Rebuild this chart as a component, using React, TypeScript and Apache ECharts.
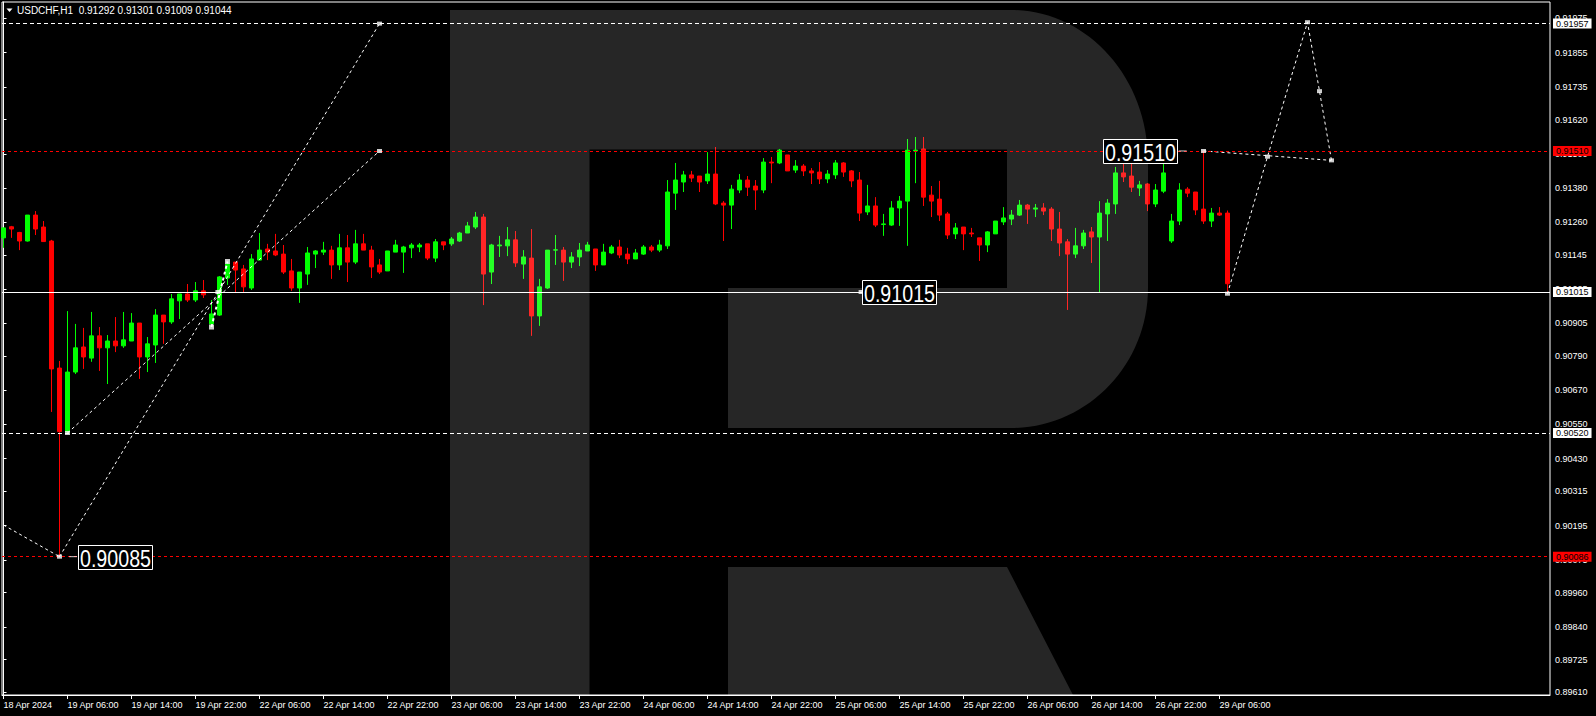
import React, { useEffect, useRef } from 'react';
import * as echarts from 'echarts';

// ---------- data ----------
const symbolName = 'USDCHF,H1';

// hourly candles, [open, high, low, close], first bar = 18 Apr 2024 22:00
const candles: [number, number, number, number][] = [
  [0.91205, 0.91241, 0.91170, 0.91240], [0.91244, 0.91247, 0.91205, 0.91236], [0.91224, 0.91226, 0.91162, 0.91194],
  [0.91194, 0.91285, 0.91192, 0.91285], [0.91285, 0.91299, 0.91215, 0.91236], [0.91243, 0.91264, 0.91192, 0.91192],
  [0.91194, 0.91198, 0.90594, 0.90745], [0.90748, 0.90773, 0.90085, 0.90525], [0.90525, 0.90948, 0.90520, 0.90734],
  [0.90734, 0.90903, 0.90727, 0.90819], [0.90822, 0.90889, 0.90745, 0.90787], [0.90783, 0.90945, 0.90770, 0.90861],
  [0.90861, 0.90892, 0.90738, 0.90819], [0.90819, 0.90864, 0.90692, 0.90843], [0.90843, 0.90927, 0.90804, 0.90826],
  [0.90826, 0.90945, 0.90819, 0.90847], [0.90843, 0.90941, 0.90843, 0.90906], [0.90906, 0.90906, 0.90710, 0.90787],
  [0.90787, 0.90857, 0.90734, 0.90833], [0.90829, 0.90955, 0.90766, 0.90934], [0.90934, 0.90934, 0.90833, 0.90910],
  [0.90910, 0.91008, 0.90903, 0.90991], [0.90984, 0.91008, 0.90920, 0.91008], [0.91008, 0.91043, 0.90980, 0.90987],
  [0.90987, 0.91050, 0.90980, 0.91019], [0.91019, 0.91057, 0.90994, 0.91005], [0.90903, 0.90987, 0.90896, 0.90938],
  [0.90934, 0.91071, 0.90931, 0.91068], [0.91064, 0.91120, 0.91040, 0.91113], [0.91120, 0.91120, 0.91015, 0.91092],
  [0.91096, 0.91110, 0.91015, 0.91033], [0.91029, 0.91148, 0.91022, 0.91131], [0.91127, 0.91222, 0.91127, 0.91162],
  [0.91166, 0.91184, 0.91127, 0.91155], [0.91159, 0.91219, 0.91141, 0.91145], [0.91148, 0.91180, 0.91078, 0.91085],
  [0.91089, 0.91131, 0.91019, 0.91029], [0.91029, 0.91085, 0.90977, 0.91085], [0.91078, 0.91173, 0.91040, 0.91152],
  [0.91148, 0.91162, 0.91099, 0.91159], [0.91155, 0.91191, 0.91145, 0.91162], [0.91162, 0.91177, 0.91061, 0.91110],
  [0.91110, 0.91219, 0.91092, 0.91170], [0.91170, 0.91215, 0.91050, 0.91120], [0.91120, 0.91233, 0.91113, 0.91184],
  [0.91184, 0.91219, 0.91162, 0.91162], [0.91162, 0.91177, 0.91064, 0.91103], [0.91110, 0.91131, 0.91078, 0.91085],
  [0.91089, 0.91159, 0.91089, 0.91159], [0.91155, 0.91198, 0.91155, 0.91180], [0.91155, 0.91177, 0.91082, 0.91173],
  [0.91170, 0.91187, 0.91134, 0.91180], [0.91173, 0.91187, 0.91155, 0.91180], [0.91184, 0.91184, 0.91127, 0.91134],
  [0.91134, 0.91201, 0.91120, 0.91191], [0.91191, 0.91191, 0.91162, 0.91180], [0.91184, 0.91208, 0.91177, 0.91201],
  [0.91194, 0.91226, 0.91191, 0.91222], [0.91222, 0.91261, 0.91222, 0.91247], [0.91243, 0.91296, 0.91236, 0.91278],
  [0.91278, 0.91289, 0.90969, 0.91078], [0.91085, 0.91184, 0.91043, 0.91180], [0.91177, 0.91212, 0.91138, 0.91180],
  [0.91177, 0.91243, 0.91141, 0.91198], [0.91198, 0.91229, 0.91103, 0.91117], [0.91113, 0.91162, 0.91061, 0.91138],
  [0.91134, 0.91236, 0.90861, 0.90931], [0.90931, 0.91061, 0.90896, 0.91033], [0.91029, 0.91162, 0.91026, 0.91162],
  [0.91162, 0.91215, 0.91110, 0.91163], [0.91162, 0.91173, 0.91054, 0.91120], [0.91120, 0.91155, 0.91099, 0.91138],
  [0.91138, 0.91187, 0.91106, 0.91162], [0.91159, 0.91191, 0.91159, 0.91180], [0.91166, 0.91166, 0.91089, 0.91110],
  [0.91110, 0.91184, 0.91110, 0.91155], [0.91152, 0.91180, 0.91148, 0.91173], [0.91173, 0.91198, 0.91134, 0.91145],
  [0.91148, 0.91170, 0.91113, 0.91131], [0.91131, 0.91166, 0.91131, 0.91152], [0.91148, 0.91180, 0.91145, 0.91173],
  [0.91173, 0.91180, 0.91155, 0.91162], [0.91162, 0.91198, 0.91155, 0.91180], [0.91177, 0.91408, 0.91166, 0.91366],
  [0.91362, 0.91468, 0.91303, 0.91408], [0.91401, 0.91440, 0.91366, 0.91426], [0.91426, 0.91440, 0.91401, 0.91415],
  [0.91422, 0.91422, 0.91366, 0.91401], [0.91405, 0.91506, 0.91394, 0.91429], [0.91429, 0.91524, 0.91320, 0.91324],
  [0.91327, 0.91334, 0.91194, 0.91320], [0.91320, 0.91391, 0.91236, 0.91376], [0.91373, 0.91429, 0.91362, 0.91408],
  [0.91408, 0.91422, 0.91352, 0.91383], [0.91387, 0.91408, 0.91303, 0.91373], [0.91373, 0.91485, 0.91362, 0.91471],
  [0.91471, 0.91489, 0.91397, 0.91468], [0.91468, 0.91517, 0.91464, 0.91513], [0.91496, 0.91496, 0.91440, 0.91440],
  [0.91443, 0.91478, 0.91433, 0.91457], [0.91457, 0.91464, 0.91422, 0.91440], [0.91440, 0.91450, 0.91394, 0.91433],
  [0.91436, 0.91471, 0.91394, 0.91412], [0.91412, 0.91443, 0.91397, 0.91429], [0.91426, 0.91478, 0.91412, 0.91468],
  [0.91468, 0.91471, 0.91419, 0.91436], [0.91440, 0.91443, 0.91383, 0.91405], [0.91408, 0.91436, 0.91264, 0.91292],
  [0.91296, 0.91391, 0.91285, 0.91317], [0.91317, 0.91348, 0.91243, 0.91250], [0.91252, 0.91289, 0.91212, 0.91254],
  [0.91250, 0.91334, 0.91247, 0.91310], [0.91310, 0.91352, 0.91247, 0.91334], [0.91334, 0.91552, 0.91177, 0.91513],
  [0.91510, 0.91559, 0.91397, 0.91513], [0.91517, 0.91559, 0.91317, 0.91348], [0.91355, 0.91387, 0.91278, 0.91334],
  [0.91341, 0.91405, 0.91264, 0.91285], [0.91289, 0.91296, 0.91201, 0.91215], [0.91219, 0.91257, 0.91201, 0.91240],
  [0.91243, 0.91243, 0.91162, 0.91219], [0.91222, 0.91240, 0.91208, 0.91219], [0.91205, 0.91205, 0.91124, 0.91180],
  [0.91180, 0.91229, 0.91155, 0.91226], [0.91219, 0.91264, 0.91219, 0.91264], [0.91261, 0.91313, 0.91250, 0.91275],
  [0.91271, 0.91303, 0.91250, 0.91285], [0.91285, 0.91338, 0.91282, 0.91320], [0.91320, 0.91324, 0.91254, 0.91306],
  [0.91306, 0.91324, 0.91278, 0.91310], [0.91310, 0.91327, 0.91285, 0.91299], [0.91306, 0.91313, 0.91194, 0.91236],
  [0.91236, 0.91296, 0.91141, 0.91187], [0.91191, 0.91201, 0.90952, 0.91148], [0.91148, 0.91240, 0.91134, 0.91177],
  [0.91177, 0.91233, 0.91166, 0.91222], [0.91226, 0.91243, 0.91117, 0.91208], [0.91208, 0.91334, 0.91015, 0.91292],
  [0.91289, 0.91341, 0.91194, 0.91327], [0.91324, 0.91454, 0.91289, 0.91433], [0.91433, 0.91506, 0.91401, 0.91419],
  [0.91422, 0.91475, 0.91366, 0.91383], [0.91380, 0.91405, 0.91352, 0.91391], [0.91394, 0.91397, 0.91299, 0.91324],
  [0.91324, 0.91394, 0.91313, 0.91373], [0.91369, 0.91468, 0.91362, 0.91433], [0.91194, 0.91289, 0.91187, 0.91264],
  [0.91264, 0.91397, 0.91250, 0.91373], [0.91376, 0.91383, 0.91348, 0.91362], [0.91366, 0.91366, 0.91285, 0.91303],
  [0.91306, 0.91510, 0.91254, 0.91264], [0.91264, 0.91310, 0.91243, 0.91292], [0.91292, 0.91313, 0.91282, 0.91285],
  [0.91292, 0.91301, 0.91009, 0.91044],
];

// time-axis tick labels (one every 8 bars)
const xTickLabels = [
  '18 Apr 2024', '19 Apr 06:00', '19 Apr 14:00', '19 Apr 22:00', '22 Apr 06:00', '22 Apr 14:00', '22 Apr 22:00',
  '23 Apr 06:00', '23 Apr 14:00', '23 Apr 22:00', '24 Apr 06:00', '24 Apr 14:00', '24 Apr 22:00', '25 Apr 06:00',
  '25 Apr 14:00', '25 Apr 22:00', '26 Apr 06:00', '26 Apr 14:00', '26 Apr 22:00', '29 Apr 06:00',
];
const xTickBars = [0, 8, 16, 24, 32, 40, 48, 56, 64, 72, 80, 88, 96, 104, 112, 120, 128, 136, 144, 152];

// price-axis tick labels
const yTickValues = [
  0.8961, 0.89725, 0.8984, 0.8996, 0.90075, 0.90195, 0.90315, 0.9043, 0.9055, 0.9067, 0.9079,
  0.90905, 0.91025, 0.91145, 0.9126, 0.9138, 0.915, 0.9162, 0.91735, 0.91855, 0.91975,
];

// horizontal levels
const levelTop = 0.91957;      // white dashed
const levelResist = 0.9151;    // red dashed
const levelPivot = 0.91015;    // white solid
const levelSupport = 0.9052;   // white dashed
const levelLow = 0.90086;      // red dashed
const bidPrice = 0.91044;

// forecast / construction lines, [bar, price]
const lineA: [number, number][] = [[0, 0.90197], [7, 0.90086]];
const lineB: [number, number][] = [[7, 0.90086], [47, 0.91957]];
const lineC: [number, number][] = [[8, 0.9052], [47, 0.9151]];
const lineD: [number, number][] = [[26, 0.90892], [28, 0.91122]];
const forecastPath: [number, number][] = [[153, 0.91009], [158, 0.9149], [163, 0.91962], [164.5, 0.9172], [166, 0.91477]];
const forecastFlat: [number, number][] = [[150, 0.9151], [166, 0.91477]];
const arrowMarks: [number, number][] = [
  [7, 0.90086], [8, 0.9052], [47, 0.91957], [47, 0.9151], [26.8, 0.91015], [107.2, 0.91015],
  [150, 0.9151], [153, 0.91009], [158, 0.9149], [163, 0.91962], [164.5, 0.9172], [166, 0.91477],
];
const squareMarks: [number, number][] = [[26, 0.90892], [28, 0.91122]];
const labelTicks: [number, number][] = [[8.7, 0.90086], [147.4, 0.9151]];

// price text boxes, [bar, price]
const priceBoxes: [number, number][] = [[142.1, 0.9151], [111.9, 0.91015], [13.94, 0.90085]];

// ---------- view ----------
const X_MIN = -0.1875;
const X_MAX = 193.3125;
const Y_MIN = 0.8960047;
const Y_MAX = 0.920329;

const AXIS_FONT = '"Liberation Sans", Arial, sans-serif';

const R_PATH =
  'M450,695 L450,10 L1011,10 C1086.7,10 1148,77.2 1148,160 L1148,288 C1148,365.3 1086.7,428 1011,428 ' +
  'L728,428 L728,288 L1007,288 L1007,149.5 L589.5,149.5 L589.5,695 Z ' +
  'M728,567 L1007,567 L1073,695 L728,695 Z';

let registered = false;
function registerLogo() {
  if (registered) return;
  registered = true;
  echarts.graphic.registerShape('rlogo', echarts.graphic.extendPath(R_PATH, {}) as any);
}

export default function App() {
  const ref = useRef<HTMLDivElement>(null);

  useEffect(() => {
    if (!ref.current) return;
    registerLogo();
    const chart = echarts.init(ref.current, null, { renderer: 'svg' });

    const fmt = (v: number) => Number(v).toFixed(5);
    const last = candles[candles.length - 1];
    const header = `${symbolName}\u00a0\u00a0${fmt(last[0])} ${fmt(last[1])} ${fmt(last[2])} ${fmt(last[3])}`;

    const axisBox = (bg: string) => ({
      show: true,
      position: 'end',
      distance: 3,
      formatter: (p: any) => fmt(p.value),
      color: '#000',
      backgroundColor: bg,
      padding: [0, 3],
      lineHeight: 10,
      fontSize: 9,
      fontFamily: AXIS_FONT,
    });

    const dashedLine = (data: [number, number][], width = 1) => ({
      type: 'line',
      data,
      z: 4,
      silent: true,
      symbol: 'none',
      lineStyle: { color: '#fff', width, type: [3, 3] },
    });

    const baseGraphic: any[] = [
      { id: 'logo', type: 'rlogo', x: 0, y: 0, z: 3, silent: true, style: { fill: 'rgba(255,255,255,0.149)' } },
      { id: 'tri', type: 'polygon', z: 10, shape: { points: [[6.5, 8.5], [12.5, 8.5], [9.5, 12]] }, style: { fill: '#fff' } },
      {
        id: 'hdr', type: 'text', x: 17, y: 10.5, z: 10,
        style: { text: header, fill: '#fff', fontSize: 10, fontFamily: AXIS_FONT, verticalAlign: 'middle', align: 'left' },
      },
    ];

    const option: any = {
      animation: false,
      backgroundColor: '#000',
      grid: { left: 2, right: 46, top: 2, bottom: 21, show: true, borderColor: '#fff', borderWidth: 1 },
      xAxis: {
        type: 'value',
        min: X_MIN,
        max: X_MAX,
        splitLine: { show: false },
        axisLine: { show: true, lineStyle: { color: '#fff', width: 1 } },
        axisTick: { show: true, customValues: xTickBars, length: 4, lineStyle: { color: '#fff' } },
        axisLabel: {
          customValues: xTickBars,
          formatter: (v: number) => xTickLabels[xTickBars.indexOf(Math.round(v))] ?? '',
          color: '#fff',
          fontSize: 9,
          fontFamily: AXIS_FONT,
          align: 'left',
          margin: 5,
        },
      },
      yAxis: {
        type: 'value',
        position: 'right',
        min: Y_MIN,
        max: Y_MAX,
        scale: true,
        splitLine: { show: false },
        axisLine: { show: true, lineStyle: { color: '#fff', width: 1 } },
        axisTick: { show: true, customValues: yTickValues, length: 3, lineStyle: { color: '#fff' } },
        axisLabel: {
          customValues: yTickValues,
          formatter: (v: number) => fmt(v),
          color: '#fff',
          fontSize: 9,
          fontFamily: AXIS_FONT,
          margin: 5,
        },
      },
      graphic: baseGraphic,
      series: [
        {
          type: 'candlestick',
          z: 2,
          barWidth: 4,
          encode: { x: 0, y: [1, 2, 3, 4] },
          data: candles.map((c, i) => [i, c[0], c[3], c[2], c[1]]),
          itemStyle: {
            color: '#00ff00',
            color0: '#ff0000',
            borderColor: '#00ff00',
            borderColor0: '#ff0000',
            borderWidth: 1,
          },
          markLine: {
            silent: true,
            precision: 5,
            symbol: ['none', 'none'],
            animation: false,
            data: [
              { yAxis: levelTop, lineStyle: { color: '#fff', width: 1, type: [4, 3] }, label: axisBox('#fff') },
              { yAxis: levelResist, lineStyle: { color: '#ff0000', width: 1, type: [3, 3] }, label: axisBox('#ff0000') },
              { yAxis: bidPrice, lineStyle: { opacity: 0 }, label: axisBox('#fff') },
              { yAxis: levelPivot, lineStyle: { color: '#fff', width: 1, type: 'solid' }, label: axisBox('#fff') },
              { yAxis: levelSupport, lineStyle: { color: '#fff', width: 1, type: [4, 3] }, label: axisBox('#fff') },
              { yAxis: levelLow, lineStyle: { color: '#ff0000', width: 1, type: [3, 3] }, label: axisBox('#ff0000') },
            ],
          },
        },
        dashedLine(lineA),
        dashedLine(lineB),
        dashedLine(lineC),
        dashedLine(lineD, 2),
        dashedLine(forecastPath),
        dashedLine(forecastFlat),
        {
          type: 'scatter',
          z: 5,
          silent: true,
          symbol: 'rect',
          symbolSize: [5, 4],
          itemStyle: { color: '#fff' },
          data: arrowMarks,
        },
        {
          type: 'scatter',
          z: 5,
          silent: true,
          symbol: 'rect',
          symbolSize: [5, 5],
          itemStyle: { color: '#fff' },
          data: squareMarks,
        },
        {
          type: 'scatter',
          z: 5,
          silent: true,
          symbol: 'rect',
          symbolSize: [8, 1],
          itemStyle: { color: '#fff' },
          data: labelTicks,
        },
      ],
    };

    chart.setOption(option);

    // boxed price texts, placed through the chart's own scales
    const BOX_W = 74;
    const BOX_H = 24;
    const boxes = priceBoxes.map((b, k) => {
      const [px, py] = chart.convertToPixel({ gridIndex: 0 }, b) as number[];
      const left = Math.round(px - BOX_W / 2) + 0.5;
      const top = Math.round(py - BOX_H / 2) + 0.5;
      return {
        id: 'box' + k,
        type: 'group',
        x: left,
        y: top,
        z: 8,
        silent: true,
        children: [
          {
            type: 'rect', z: 8,
            shape: { x: 0, y: 0, width: BOX_W, height: BOX_H },
            style: { fill: '#000', stroke: '#fff', lineWidth: 1 },
          },
          {
            type: 'text', z: 9,
            x: BOX_W / 2, y: BOX_H / 2 + 1, scaleX: 0.82,
            style: {
              text: fmt(b[1]), fill: '#fff', fontSize: 24, fontFamily: AXIS_FONT,
              align: 'center', verticalAlign: 'middle',
            },
          },
        ],
      };
    });
    chart.setOption({ graphic: [...baseGraphic, ...boxes] });

    return () => chart.dispose();
  }, []);

  return <div ref={ref} style={{ position: 'fixed', left: 0, top: 0, width: 1596, height: 716 }} />;
}
